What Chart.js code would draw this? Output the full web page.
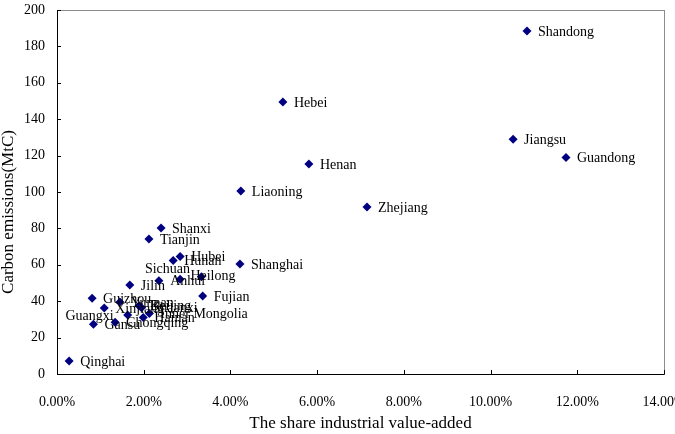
<!DOCTYPE html>
<html>
<head>
<meta charset="utf-8">
<script src="https://cdn.jsdelivr.net/npm/chart.js@4.4.1/dist/chart.umd.min.js"></script>
<style>
  html, body { margin: 0; padding: 0; background: #fff; }
  #wrap { width: 675px; height: 434px; }
</style>
</head>
<body>
<div id="wrap"><canvas id="grafico" width="675" height="434"></canvas></div>
<script>
// provinces, share of industrial value-added (%), carbon emissions (MtC)
const provincias = ["Shandong", "Hebei", "Jiangsu", "Guandong", "Henan", "Liaoning", "Zhejiang",
  "Shanxi", "Tianjin", "Hubei", "Hunan", "Shanghai", "Sichuan", "Anhui", "Heilong", "Jilin",
  "Fujian", "Guizhou", "Xinjiang", "Yunnan", "Beijing", "Shaanxi", "Guangxi", "Hainan",
  "Inner Mongolia", "Chongqing", "Gansu", "Qinghai"];
const participacion = [10.84, 5.21, 10.52, 11.74, 5.81, 4.24, 7.15,
  2.40, 2.12, 2.84, 2.68, 4.22, 2.35, 2.84, 3.33, 1.68,
  3.36, 0.81, 1.09, 1.45, 1.89, 1.95, 1.63, 1.99,
  2.13, 1.34, 0.84, 0.28];
const emisiones = [188.5, 149.5, 129, 119, 115.4, 100.5, 91.8,
  80.2, 74.2, 64.5, 62.3, 60.4, 51.3, 52, 53.5, 48.9,
  42.9, 41.6, 36.3, 39.6, 37.5, 36.4, 32.4, 31.1,
  33.3, 28.4, 27.3, 7.1];

const FUENTE = "'Liberation Serif', 'Times New Roman', serif";

// labels that were moved by hand in the original: [dx, dy, align]
const ajustes = {
  Sichuan: [-14, -11, "left"],
  Anhui: [-10, 2, "left"],
  Heilong: [-11, 0, "left"],
  Guangxi: [-14, 1, "right"]
};

// frame, inward ticks, point labels and the y title
const marcoYEtiquetas = {
  id: "marcoYEtiquetas",
  beforeDatasetsDraw(chart) {
    const { ctx, chartArea: a, scales } = chart;
    ctx.save();
    ctx.strokeStyle = "#8c8c8c";
    ctx.lineWidth = 1;
    ctx.strokeRect(a.left + 0.5, a.top + 0.5, a.right - a.left, a.bottom - a.top);
    ctx.strokeStyle = "#000";
    ctx.beginPath();
    ctx.moveTo(a.left + 0.5, a.top);
    ctx.lineTo(a.left + 0.5, a.bottom + 0.5);
    ctx.lineTo(a.right + 0.5, a.bottom + 0.5);
    scales.y.ticks.forEach((t, i) => {
      const py = Math.round(scales.y.getPixelForTick(i)) + 0.5;
      ctx.moveTo(a.left, py);
      ctx.lineTo(a.left + 4, py);
    });
    scales.x.ticks.forEach((t, i) => {
      const px = Math.round(scales.x.getPixelForTick(i)) + 0.5;
      ctx.moveTo(px, a.bottom);
      ctx.lineTo(px, a.bottom - 4);
    });
    ctx.stroke();

    // y axis title (sits a bit below the middle in the original)
    ctx.translate(9, (a.top + a.bottom) / 2 + 20);
    ctx.rotate(-Math.PI / 2);
    ctx.font = "17px " + FUENTE;
    ctx.fillStyle = "#000";
    ctx.textAlign = "center";
    ctx.textBaseline = "middle";
    ctx.fillText("Carbon emissions(MtC)", 0, 0);
    ctx.restore();
  },
  afterDatasetsDraw(chart) {
    const { ctx } = chart;
    const meta = chart.getDatasetMeta(0);
    ctx.save();
    ctx.font = "14px " + FUENTE;
    ctx.fillStyle = "#000";
    ctx.textBaseline = "middle";
    meta.data.forEach((pt, i) => {
      const nombre = provincias[i];
      const aj = ajustes[nombre] || [11, 1, "left"];
      ctx.textAlign = aj[2];
      ctx.fillText(nombre, pt.x + aj[0], pt.y + aj[1]);
    });
    ctx.restore();
  }
};

const ctx = document.getElementById("grafico").getContext("2d");
new Chart(ctx, {
  type: "scatter",
  data: {
    datasets: [{
      label: "Carbon emissions",
      data: participacion.map((x, i) => ({ x: x, y: emisiones[i] })),
      pointStyle: "rectRot",
      pointRadius: 4.5,
      pointHoverRadius: 4.5,
      backgroundColor: "#000080",
      borderColor: "#000080",
      borderWidth: 0
    }]
  },
  options: {
    responsive: false,
    animation: false,
    layout: { autoPadding: false, padding: { left: 0, right: 11, top: 10, bottom: 0 } },
    plugins: {
      legend: { display: false },
      tooltip: { enabled: false }
    },
    scales: {
      x: {
        type: "linear",
        min: 0,
        max: 14,
        grid: { display: false, drawTicks: false },
        border: { display: false },
        ticks: {
          stepSize: 2,
          padding: 20,
          color: "#000",
          font: { family: FUENTE, size: 14 },
          maxRotation: 0,
          callback: (v) => v.toFixed(2) + "%"
        },
        title: {
          display: true,
          text: "The share industrial value-added",
          color: "#000",
          font: { family: FUENTE, size: 17 },
          padding: { top: 6, bottom: 0 }
        },
        afterFit(scale) {
          scale.height = 60;
          scale.paddingLeft = 0;
          scale.paddingRight = 0;
        }
      },
      y: {
        min: 0,
        max: 200,
        grid: { display: false, drawTicks: false },
        border: { display: false },
        ticks: {
          stepSize: 20,
          padding: 12,
          color: "#000",
          font: { family: FUENTE, size: 14 }
        },
        afterFit(scale) {
          scale.width = 57;
          scale.paddingTop = 0;
          scale.paddingBottom = 0;
        }
      }
    }
  },
  plugins: [marcoYEtiquetas]
});
</script>
</body>
</html>
